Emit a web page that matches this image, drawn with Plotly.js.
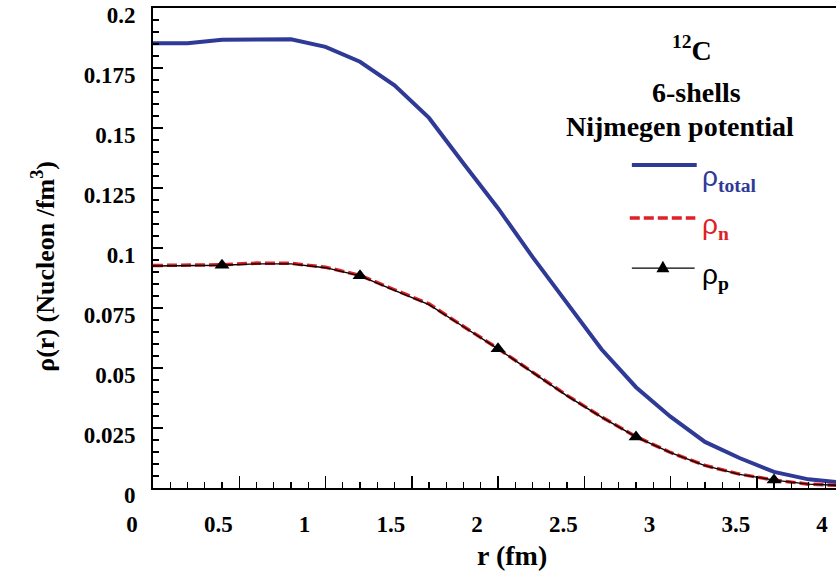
<!DOCTYPE html>
<html>
<head>
<meta charset="utf-8">
<script src="https://cdn.plot.ly/plotly-3.0.1.min.js"></script>
<style>
  html, body { margin: 0; padding: 0; overflow: hidden; background: #fff; }
  #chart { width: 843px; height: 577px; }
</style>
</head>
<body>
<div id="chart"></div>
<script>
// Radial grid (fm)
const radius = [0.0, 0.2, 0.4, 0.6, 0.8, 1.0, 1.2, 1.4, 1.6, 1.8, 2.0,
                2.2, 2.4, 2.6, 2.8, 3.0, 3.2, 3.4, 3.6, 3.8, 4.0];

// Density distributions of 12C (nucleon / fm^3)
const rhoTotal = [0.1853, 0.1853, 0.1868, 0.1870, 0.1870, 0.1838, 0.1776, 0.1678, 0.1542, 0.1352, 0.1166,
                  0.0963, 0.0767, 0.0578, 0.0420, 0.0297, 0.0192, 0.0125, 0.0067, 0.0036, 0.0022];
const rhoNeutron = [0.0927, 0.0927, 0.0930, 0.0937, 0.0936, 0.0920, 0.0886, 0.0826, 0.0767, 0.0673, 0.0581,
                    0.0483, 0.0386, 0.0296, 0.0214, 0.0148, 0.0094, 0.0058, 0.0033, 0.0016, 0.0010];
const rhoProton = [0.0925, 0.0925, 0.0928, 0.0934, 0.0934, 0.0918, 0.0884, 0.0823, 0.0764, 0.0672, 0.0580,
                   0.0482, 0.0384, 0.0295, 0.0213, 0.0147, 0.0093, 0.0057, 0.0033, 0.0016, 0.0010];

// Grid points that carry a triangle symbol on the proton curve
const protonMarkIdx = [2, 6, 10, 14, 18];

// Axis ticks
const xTickVals = [0, 0.5, 1, 1.5, 2, 2.5, 3, 3.5, 4];
const xTickText = ['0', '0.5', '1', '1.5', '2', '2.5', '3', '3.5', '4'];
const yTickVals = [0, 0.025, 0.05, 0.075, 0.1, 0.125, 0.15, 0.175, 0.2];
const yTickText = ['0', '0.025', '0.05', '0.075', '0.1', '0.125', '0.15', '0.175', '0.2'];

const BLUE = '#2E3A96';
const RED = '#E01F26';
const SERIF = "'Liberation Serif', serif";
const SANS = "'Liberation Sans', sans-serif";

const traces = [
  { x: radius, y: rhoTotal, type: 'scatter', mode: 'lines',
    line: { color: BLUE, width: 4 }, showlegend: false, hoverinfo: 'skip' },
  { x: radius, y: rhoNeutron, type: 'scatter', mode: 'lines',
    line: { color: RED, width: 3.5, dash: '10px,4px' }, showlegend: false, hoverinfo: 'skip' },
  { x: radius, y: rhoProton, type: 'scatter', mode: 'lines',
    line: { color: '#000', width: 1.4 }, showlegend: false, hoverinfo: 'skip' },
  { x: protonMarkIdx.map(i => radius[i]), y: protonMarkIdx.map(i => rhoProton[i]),
    type: 'scatter', mode: 'markers',
    marker: { symbol: 'triangle-up', size: 13, color: '#000' }, showlegend: false, hoverinfo: 'skip' }
];

// Key samples (line swatches) in plot-area fractions
const keyLine = (x0, x1, y, line) => ({ type: 'line', xref: 'paper', yref: 'paper',
  x0: x0, x1: x1, y0: y, y1: y, line: line, layer: 'above' });

const tickFont = { family: SERIF, size: 23, color: '#000', weight: 'bold' };
const boldSerif = (size) => ({ family: SERIF, size: size, color: '#000', weight: 'bold' });

const layout = {
  width: 843, height: 577,
  margin: { l: 153, r: 0, t: 8, b: 89 },
  paper_bgcolor: '#fff', plot_bgcolor: '#fff',
  showlegend: false,
  xaxis: {
    range: [0, 4], tickmode: 'array', tickvals: xTickVals, ticktext: xTickText,
    ticks: 'inside', ticklen: 12, tickwidth: 1.5, tickcolor: '#000',
    minor: { dtick: 0.1, tick0: 0, ticks: 'inside', ticklen: 6, tickwidth: 1.3, tickcolor: '#000', showgrid: false },
    showline: true, linecolor: '#000', linewidth: 2, mirror: true,
    showgrid: false, zeroline: false,
    tickfont: tickFont, ticklabelshift: -21, ticklabelstandoff: 14
  },
  yaxis: {
    range: [0, 0.2000001], tickmode: 'array', tickvals: yTickVals, ticktext: yTickText,
    ticks: 'inside', ticklen: 10, tickwidth: 1.5, tickcolor: '#000',
    minor: { dtick: 0.005, tick0: 0, ticks: 'inside', ticklen: 6, tickwidth: 1.3, tickcolor: '#000', showgrid: false },
    showline: true, linecolor: '#000', linewidth: 2,
    showgrid: false, zeroline: false,
    tickfont: tickFont, ticklabelshift: 7, ticklabelstandoff: 11
  },
  shapes: [
    keyLine(0.694, 0.788, 0.673, { color: BLUE, width: 4 }),
    keyLine(0.691, 0.786, 0.5625, { color: RED, width: 3.5, dash: '10px,4px' }),
    keyLine(0.694, 0.785, 0.458, { color: '#000', width: 1.4 }),
    { type: 'path', xref: 'paper', yref: 'paper', xsizemode: 'pixel', ysizemode: 'pixel',
      xanchor: 0.739, yanchor: 0.458, path: 'M -6.5 -4 L 6.5 -4 L 0 7.5 Z',
      fillcolor: '#000', line: { width: 0 }, layer: 'above' }
  ],
  annotations: [
    { text: 'ρ(r) (Nucleon /fm<sup>3</sup>)', xref: 'paper', yref: 'paper', x: 0, y: 0.461,
      xshift: -109, xanchor: 'center', yanchor: 'middle', textangle: -90, showarrow: false,
      font: boldSerif(26) },
    { text: 'r (fm)', xref: 'paper', yref: 'paper', x: 0.52, y: 0, yshift: -67,
      xanchor: 'center', yanchor: 'middle', showarrow: false, font: boldSerif(28) },
    { text: '<sup>12</sup>C', xref: 'paper', yref: 'paper', x: 0.781, y: 0.915,
      xanchor: 'center', yanchor: 'middle', showarrow: false, font: boldSerif(28) },
    { text: '6-shells', xref: 'paper', yref: 'paper', x: 0.787, y: 0.823,
      xanchor: 'center', yanchor: 'middle', showarrow: false, font: boldSerif(28) },
    { text: 'Nijmegen potential', xref: 'paper', yref: 'paper', x: 0.764, y: 0.754,
      xanchor: 'center', yanchor: 'middle', showarrow: false, font: boldSerif(28) },
    { text: "ρ<sub><span style=\"font-family:'Liberation Serif';font-weight:bold\">total</span></sub>",
      xref: 'paper', yref: 'paper', x: 0.7928, y: 0.645, xanchor: 'left', yanchor: 'middle', showarrow: false,
      font: { family: SANS, size: 28, color: BLUE } },
    { text: "ρ<sub><span style=\"font-family:'Liberation Serif';font-weight:bold\">n</span></sub>",
      xref: 'paper', yref: 'paper', x: 0.7928, y: 0.545, xanchor: 'left', yanchor: 'middle', showarrow: false,
      font: { family: SANS, size: 28, color: RED } },
    { text: "ρ<sub><span style=\"font-family:'Liberation Serif';font-weight:bold\">p</span></sub>",
      xref: 'paper', yref: 'paper', x: 0.7928, y: 0.44, xanchor: 'left', yanchor: 'middle', showarrow: false,
      font: { family: SANS, size: 28, color: '#000' } }
  ]
};

Plotly.newPlot('chart', traces, layout, { staticPlot: true, displayModeBar: false });
</script>
</body>
</html>
